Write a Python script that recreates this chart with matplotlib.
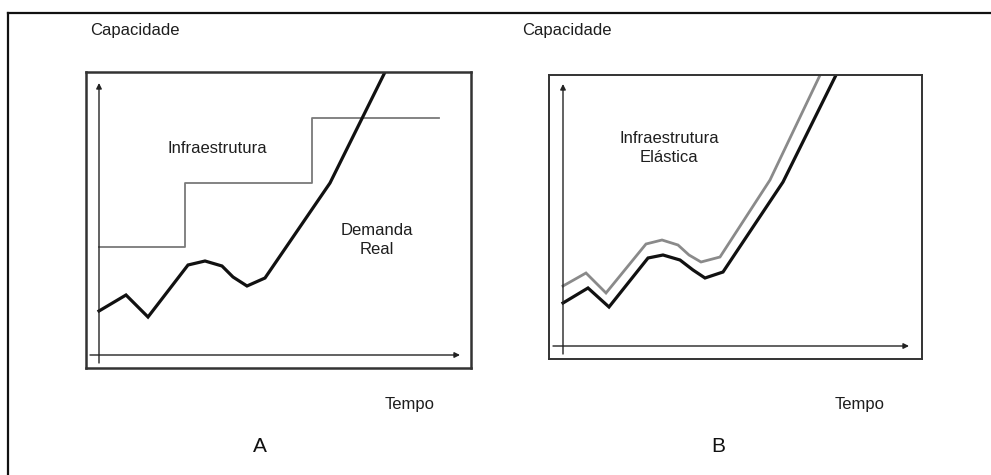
import matplotlib
matplotlib.use("Agg")
import matplotlib.pyplot as plt
from matplotlib.lines import Line2D

plt.rcParams['font.family'] = ['Liberation Sans', 'DejaVu Sans']

# panel A: real demand vs. fixed (step) infrastructure
demand_a_t = [0, 2.7, 4.9, 8.9, 10.6, 12.3, 13.4, 14.8, 16.6, 23.1, 29.0]
demand_a_c = [4.4, 6.0, 3.8, 9.0, 9.4, 8.9, 7.8, 6.9, 7.7, 17.2, 29.1]
infra_a_t = [0, 8.6, 21.3, 34.0]
infra_a_c = [10.8, 17.2, 23.7, 23.7]

# panel B: real demand vs. elastic infrastructure
demand_b_t = [0, 2.5, 4.6, 8.5, 10.0, 11.7, 13.0, 14.2, 16.0, 22.0, 27.5]
demand_b_c = [4.3, 5.8, 3.9, 8.8, 9.1, 8.6, 7.6, 6.8, 7.4, 16.4, 27.5]
elastic_b_t = [0, 2.3, 4.3, 8.3, 9.9, 11.5, 12.6, 13.8, 15.7, 20.7, 25.9]
elastic_b_c = [6.0, 7.3, 5.3, 10.2, 10.6, 10.1, 9.1, 8.4, 8.9, 16.6, 27.5]

W, H = 991, 475
fig = plt.figure(figsize=(W / 100, H / 100), dpi=100)
fig.patch.set_facecolor('white')

# outer frame (top and left only)
fig.add_artist(Line2D([8 / W, 8 / W], [0, 1 - 13 / H], transform=fig.transFigure,
                      color='#111111', lw=1.6))
fig.add_artist(Line2D([8 / W, 1], [1 - 13 / H, 1 - 13 / H], transform=fig.transFigure,
                      color='#111111', lw=1.6))


def make_panel(box, xlim, ylim, frame_lw):
    left, top, right, bottom = box
    ax = fig.add_axes([left / W, 1 - bottom / H, (right - left) / W, (bottom - top) / H])
    ax.set_xlim(*xlim)
    ax.set_ylim(*ylim)
    ax.set_xticks([])
    ax.set_yticks([])
    for s in ax.spines.values():
        s.set_color('#333333')
        s.set_linewidth(frame_lw)
    return ax


def draw_arrows(ax, x0, x1, y0, y1):
    arrow = dict(arrowstyle='-|>', color='#222222', lw=1.0, mutation_scale=8,
                 shrinkA=0, shrinkB=0)
    ax.annotate('', xy=(x1, 0), xytext=(x0, 0), arrowprops=arrow)
    ax.annotate('', xy=(0, y1), xytext=(0, y0), arrowprops=arrow)


TXT = '#1e1e1e'

# ---- panel A ----
axA = make_panel((86, 72, 471, 368), (-1.3, 37.2), (-1.3, 28.3), 1.8)
draw_arrows(axA, -0.9, 36.1, -0.8, 27.2)
axA.step(infra_a_t, infra_a_c, where='post', color='#7a7a7a', lw=1.3)
axA.plot(demand_a_t, demand_a_c, color='#111111', lw=2.3, solid_joinstyle='miter')
axA.text(11.8, 20.7, 'Infraestrutura', ha='center', va='center', fontsize=12, color=TXT)
axA.text(27.8, 11.5, 'Demanda\nReal', ha='center', va='center', fontsize=12,
         color=TXT, linespacing=1.4)

# ---- panel B ----
axB = make_panel((549, 75, 922, 359), (-1.4, 35.9), (-1.3, 27.1), 1.4)
draw_arrows(axB, -1.0, 34.6, -0.8, 26.2)
axB.plot(elastic_b_t, elastic_b_c, color='#8a8a8a', lw=2.0, solid_joinstyle='miter')
axB.plot(demand_b_t, demand_b_c, color='#111111', lw=2.3, solid_joinstyle='miter')
axB.text(10.6, 19.8, 'Infraestrutura\nElástica', ha='center', va='center', fontsize=12,
         color=TXT, linespacing=1.4)

# outer labels
for cap_x, tempo_x, letter_x, letter in [(90, 385, 260, 'A'), (522, 835, 718, 'B')]:
    fig.text(cap_x / W, 1 - 31 / H, 'Capacidade', ha='left', va='center',
             fontsize=12, color=TXT)
    fig.text(tempo_x / W, 1 - 404 / H, 'Tempo', ha='left', va='center',
             fontsize=12, color=TXT)
    fig.text(letter_x / W, 1 - 447 / H, letter, ha='center', va='center',
             fontsize=15, color='#111111')

fig.savefig('out.png', dpi=100)
